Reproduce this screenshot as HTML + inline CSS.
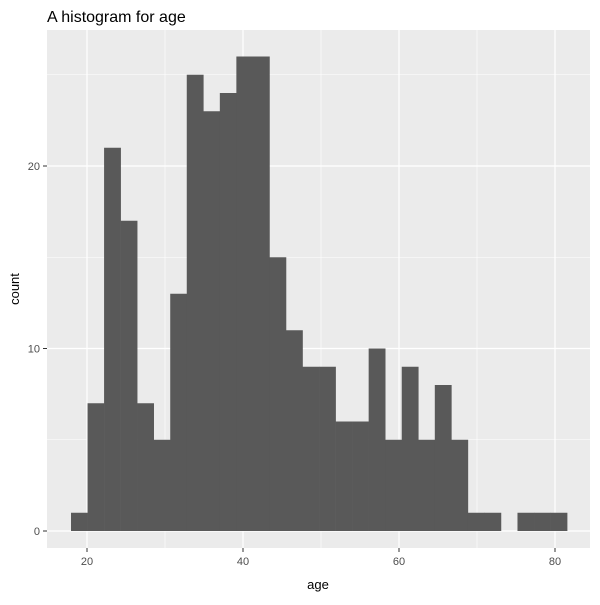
<!DOCTYPE html>
<html><head><meta charset="utf-8"><style>
body{margin:0;background:#fff;font-family:"Liberation Sans",Arial,sans-serif}
</style></head><body>
<svg id="c" width="600" height="600" xmlns="http://www.w3.org/2000/svg">
<text x="47" y="22" font-size="16" fill="#000">A histogram for age</text>
<rect x="47" y="30" width="543" height="518" fill="#ebebeb"/>
<g id="grid"></g><g id="bars"></g><g id="axes"></g>
<text x="318" y="589" font-size="13" text-anchor="middle" fill="#000">age</text>
<text transform="translate(19,289) rotate(-90)" font-size="13" text-anchor="middle" fill="#000">count</text>
</svg>
<script>
const binStart = 17.95;
const binWidth = 2.12;
const counts = [1,7,21,17,7,5,13,25,23,24,26,26,15,11,9,9,6,6,10,5,9,5,8,5,1,1,0,1,1,1];
const xTicks = [20,40,60,80];
const yTicks = [0,10,20];
const xMinor = [30,50,70];
const yMinor = [5,15,25];
const NS="http://www.w3.org/2000/svg";
const X=v=>87+(v-20)*7.8, Y=v=>531-v*18.25;
function mk(p,t,a){const e=document.createElementNS(NS,t);for(const k in a)e.setAttribute(k,a[k]);p.appendChild(e);return e;}
const g=document.getElementById('grid'),b=document.getElementById('bars'),ax=document.getElementById('axes');
xMinor.forEach(v=>{const l=mk(g,'line',{x1:X(v),x2:X(v),y1:30,y2:548,stroke:'#fff','stroke-width':0.6});

});
yMinor.forEach(v=>{const l=mk(g,'line',{x1:47,x2:590,y1:Y(v),y2:Y(v),stroke:'#fff','stroke-width':0.6});

});
xTicks.forEach(v=>{const l=mk(g,'line',{x1:X(v),x2:X(v),y1:30,y2:548,stroke:'#fff','stroke-width':1.2});


const t=mk(ax,'line',{x1:X(v),x2:X(v),y1:548,y2:552,stroke:'#333'});


const tx=mk(ax,'text',{x:X(v),y:565,'font-size':11,fill:'#4d4d4d','text-anchor':'middle'});tx.textContent=v;

});
yTicks.forEach(v=>{const l=mk(g,'line',{x1:47,x2:590,y1:Y(v),y2:Y(v),stroke:'#fff','stroke-width':1.2});


const t=mk(ax,'line',{x1:43,x2:47,y1:Y(v),y2:Y(v),stroke:'#333'});


const tx=mk(ax,'text',{x:40,y:Y(v)+4,'font-size':11,fill:'#4d4d4d','text-anchor':'end'});tx.textContent=v;

});
counts.forEach((c,i)=>{if(!c)return;const x0=X(binStart+i*binWidth),x1=X(binStart+(i+1)*binWidth);
const r=mk(b,'rect',{x:x0,y:Y(c),width:x1-x0+0.3,height:Y(0)-Y(c),fill:'#595959'});

});
</script>
</body></html>
